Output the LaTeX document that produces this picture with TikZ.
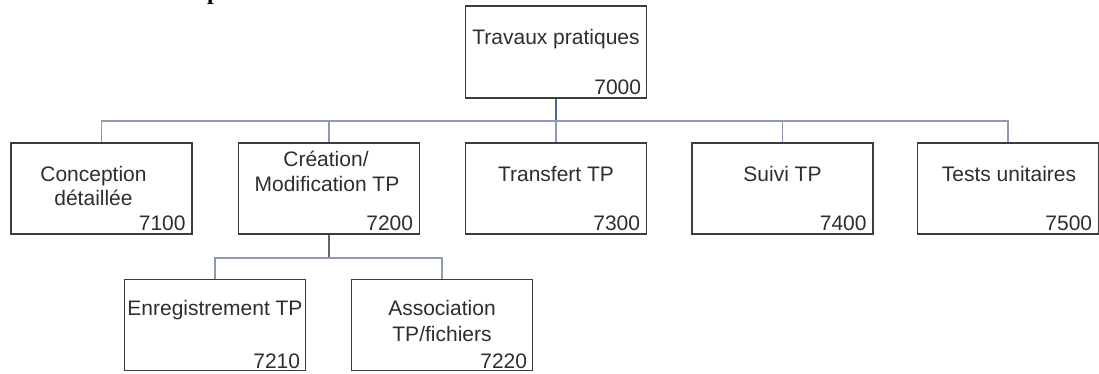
\documentclass[tikz,border=0pt]{standalone}
\usepackage{fontspec}
\setmainfont{Liberation Sans}
\newfontfamily\serifb{Liberation Serif}
\usetikzlibrary{calc}
\definecolor{boxline}{HTML}{3C3C3C}
\definecolor{txt}{HTML}{2E2E2E}
\definecolor{conn}{HTML}{8E9AB0}
\definecolor{connb}{HTML}{4A68A8}
\definecolor{conndark}{HTML}{606670}
\tikzset{
 wbs/.style={draw=boxline, line width=1.6pt, minimum width=181pt, minimum height=91pt, inner sep=0pt, fill=white},
 lbl/.style={anchor=base, text=txt, inner sep=0pt, font=\fontsize{21}{23}\selectfont},
 num/.style={anchor=base east, text=txt, inner sep=0pt, font=\fontsize{21}{23}\selectfont},
 link/.style={draw=conn, line width=1.8pt},
 linkb/.style={draw=connb, line width=1.8pt},
 linkd/.style={draw=conndark, line width=1.6pt},
}
\begin{document}
\begin{tikzpicture}[x=1pt,y=-1pt]
\useasboundingbox (0,0) rectangle (1099,374);
\begin{scope}
\clip (0,0) rectangle (1099,374);
\node[anchor=base west, inner sep=0pt, font=\serifb\bfseries\fontsize{24}{24}\selectfont] (frag) at (207,0) {p};
\end{scope}

% bus junctions
\coordinate (j) at (556,121);
\coordinate (k) at (329,258);

% boxes
\node[wbs, minimum height=92pt] (top) at (556,52) {};
\node[wbs] (c1) at (101.5,188.5) {};
\node[wbs] (c2) at (329,188.5) {};
\node[wbs] (c3) at (556,188.5) {};
\node[wbs] (c4) at (782.5,188.5) {};
\node[wbs] (c5) at (1008,188.5) {};
\node[wbs] (e1) at (215,325) {};
\node[wbs] (e2) at (442,325) {};

% connectors
\draw[linkb] (top.south) -- (j);
\draw[link] (j) -- (c3.north);
\draw[link] (c1.north) |- (j);
\draw[link] (c2.north) |- (j);
\draw[link] (c4.north) |- (j);
\draw[link] (c5.north) |- (j);
\draw[linkd] (c2.south) -- (k);
\draw[link] (e1.north) |- (k);
\draw[link] (e2.north) |- (k);

% labels
\node[lbl] (ltop) at ($(top.north)+(0,39)$) {Travaux pratiques};
\node[num] (ntop) at ($(top.south east)+(-6,-4)$) {7000};

\node[lbl] (l1a) at ($(c1.north)+(-8,39)$) {Conception};
\node[lbl] (l1b) at ($(c1.north)+(-8,63)$) {détaillée};
\node[num] (n1) at ($(c1.south east)+(-7,-4)$) {7100};

\node[lbl] (l2a) at ($(c2.north)+(-3,24)$) {Création/};
\node[lbl] (l2b) at ($(c2.north)+(-2,49)$) {Modification TP};
\node[num] (n2) at ($(c2.south east)+(-7,-4)$) {7200};

\node[lbl] (l3) at ($(c3.north)+(0,39)$) {Transfert TP};
\node[num] (n3) at ($(c3.south east)+(-7,-4)$) {7300};

\node[lbl] (l4) at ($(c4.north)+(0,39)$) {Suivi TP};
\node[num] (n4) at ($(c4.south east)+(-7,-4)$) {7400};

\node[lbl] (l5) at ($(c5.north)+(1,39)$) {Tests unitaires};
\node[num] (n5) at ($(c5.south east)+(-7,-4)$) {7500};

\node[lbl] (le1) at ($(e1.north)+(0,37)$) {Enregistrement TP};
\node[num] (ne1) at ($(e1.south east)+(-6,-3)$) {7210};

\node[lbl] (le2a) at ($(e2.north)+(0,37)$) {Association};
\node[lbl] (le2b) at ($(e2.north)+(0,63)$) {TP/fichiers};
\node[num] (ne2) at ($(e2.south east)+(-6,-3)$) {7220};
\end{tikzpicture}
\end{document}
